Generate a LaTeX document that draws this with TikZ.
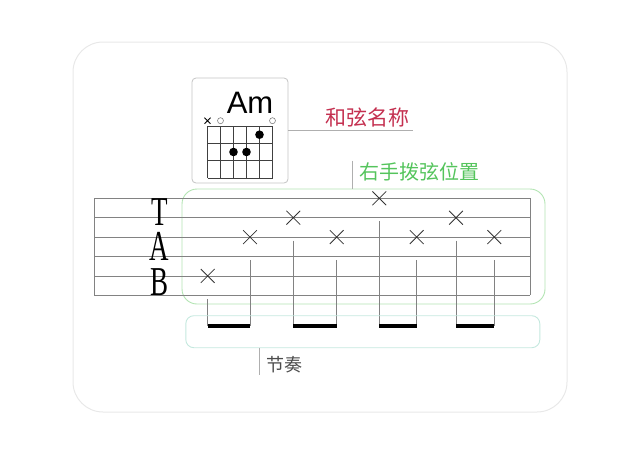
\documentclass[tikz,border=0pt]{standalone}
\usepackage{fontspec}
\setmainfont{Liberation Serif}
\newfontfamily\cjk{Noto Sans CJK SC}
\newfontfamily\chordfont{Liberation Sans}
\usetikzlibrary{positioning,shapes.misc}
\definecolor{framegray}{RGB}{232,232,232}
\definecolor{boxgray}{RGB}{195,195,195}
\definecolor{leadgray}{RGB}{175,175,175}
\definecolor{staffgray}{RGB}{130,130,130}
\definecolor{namered}{RGB}{196,48,80}
\definecolor{handgreen}{RGB}{84,196,92}
\definecolor{handbox}{RGB}{178,228,178}
\definecolor{rhythmbox}{RGB}{196,232,222}
\tikzset{
  gridline/.style={draw=black!75,line width=0.6pt},
  leader/.style={draw=leadgray,line width=0.7pt},
  staffline/.style={draw=staffgray,line width=0.6pt},
  strum/.style={cross out,draw=black!80,line width=0.8pt,minimum size=13pt,inner sep=0pt},
  stem/.style={draw=staffgray,line width=0.6pt},
  beam/.style={draw=black,line width=4pt},
  tabletter/.style={font=\fontsize{27}{27}\selectfont,inner sep=0pt,text height=27pt,text depth=0pt},
  cjklabel/.style={font=\cjk\fontsize{20}{20}\selectfont,inner sep=0pt}
}
\begin{document}
\begin{tikzpicture}[x=1pt,y=-1pt]
\useasboundingbox (0,0) rectangle (640,453);
% outer frame
\draw[framegray,line width=1pt,rounded corners=30pt] (73,42) rectangle (567,412);
% chord diagram
\node[draw=boxgray,line width=0.8pt,rounded corners=4pt,minimum width=96pt,minimum height=105pt] (chordbox) at (240,130.5) {};
\node[font=\chordfont\fontsize{31}{31}\selectfont,inner sep=0pt,anchor=base] (am) at (250,113.3) {Am};
\foreach \i in {0,...,5} \draw[gridline] (207.5+13*\i,126) -- (207.5+13*\i,178);
\foreach \j in {0,...,3} \draw[gridline] (207.5,126+17.33*\j) -- (272.5,126+17.33*\j);
\draw[black,line width=0.9pt] (204.5,117.7) -- (210.5,123.7) (204.5,123.7) -- (210.5,117.7);
\foreach \x in {220.5,272.5} \draw[black!50,line width=0.6pt] (\x,120.7) circle (3pt);
\foreach \x/\y in {259.5/134.7,233.5/152,246.5/152} \fill (\x,\y) circle (4.3pt);
% chord name label
\node[cjklabel,text=namered,anchor=west,font=\cjk\fontsize{21}{21}\selectfont] (chordname) at (325,117) {和弦名称};
\coordinate (nameend) at (413,130);
\draw[leader] (chordbox.east |- nameend) -- (nameend);
% right hand label
\node[draw=handbox,line width=0.9pt,rounded corners=15pt,minimum width=363pt,minimum height=115pt] (handbox) at (363.5,246.5) {};
\node[cjklabel,text=handgreen,anchor=west] (handlabel) at (359,171.5) {右手拨弦位置};
\coordinate (handtick) at (352,160.7);
\draw[leader] (handtick) -- (handtick |- handbox.north);
% tab staff
\foreach \s in {0,...,5} \draw[staffline] (94,198.3+19.4*\s) -- (530,198.3+19.4*\s);
\draw[staffline] (94,198.3) -- (94,295.3);
\draw[staffline] (530,198.3) -- (530,295.3);
\node[tabletter,anchor=base] (tabT) at (159.5,225) {\scalebox{1}[1.52]{T}};
\node[tabletter,anchor=base] (tabA) at (159.5,260) {\scalebox{1}[1.58]{A}};
\node[tabletter,anchor=base] (tabB) at (159.5,295) {\scalebox{1}[1.52]{B}};
% strum positions
\foreach \n/\x/\s in {1/207.7/4,2/250/2,3/293.3/1,4/336.7/2,5/379.3/0,6/416.7/2,7/456/1,8/494.3/2}
  \node[strum] (p\n) at (\x,198.3+19.4*\s) {};
% rhythm
\coordinate (beam) at (0,326);
\foreach \n in {1,...,8} \draw[stem] ([yshift=-16pt]p\n.south) -- (p\n |- beam);
\foreach \a/\b in {1/2,3/4,5/6,7/8} \draw[beam] (p\a |- beam) -- (p\b |- beam);
\node[draw=rhythmbox,line width=0.9pt,rounded corners=8pt,minimum width=354pt,minimum height=32pt] (rhythmbox) at (362.8,331.7) {};
\coordinate (rhythmtick) at (259.3,375);
\draw[leader] (rhythmtick |- rhythmbox.south) -- (rhythmtick);
\node[cjklabel,text=black!70,anchor=west,font=\cjk\fontsize{18}{18}\selectfont] (rhythmlabel) at (266.5,365) {节奏};
\end{tikzpicture}
\end{document}
